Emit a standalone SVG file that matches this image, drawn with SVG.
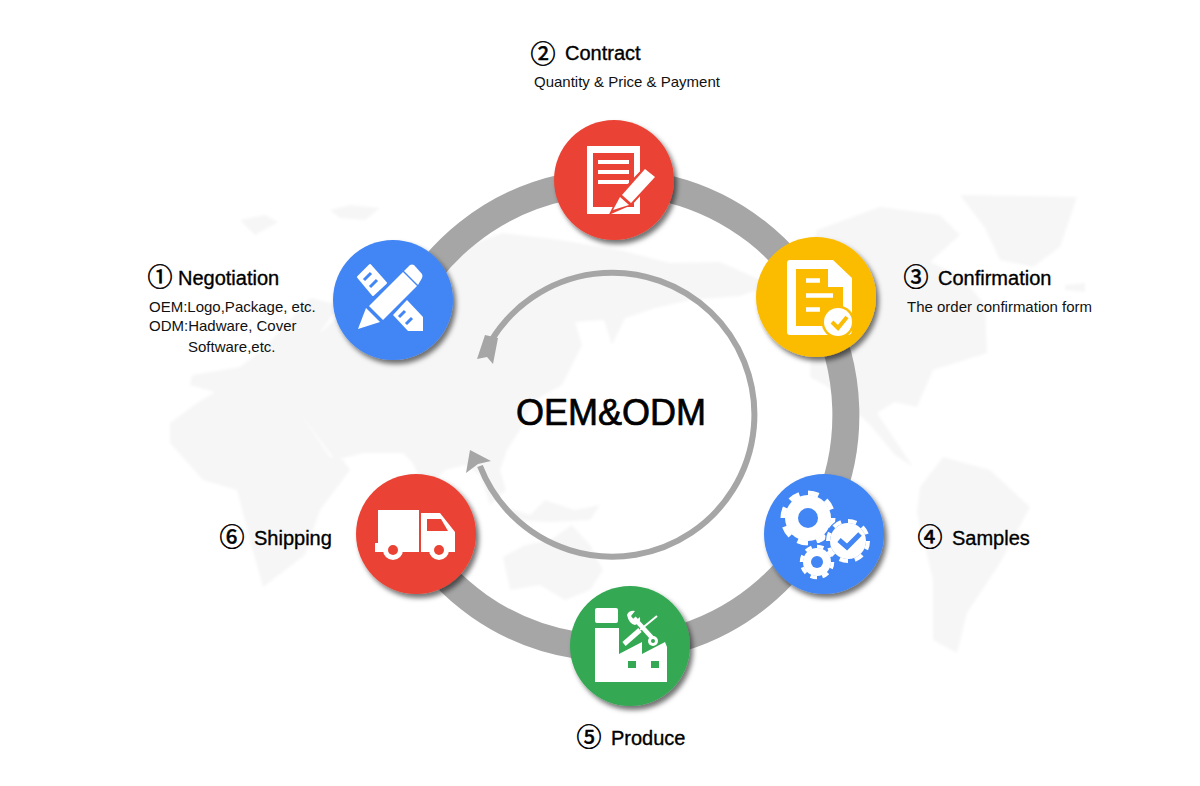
<svg xmlns="http://www.w3.org/2000/svg" width="1200" height="786" viewBox="0 0 1200 786">
<defs>
<filter id="sh" x="-20%" y="-20%" width="150%" height="150%"><feDropShadow dx="3" dy="4" stdDeviation="2.5" flood-color="#000" flood-opacity="0.55"/></filter>
<filter id="soft" x="-5%" y="-5%" width="110%" height="110%"><feGaussianBlur stdDeviation="1.4"/></filter>
</defs>
<style>
text{font-family:"Liberation Sans",Arial,sans-serif;fill:#000}
.h{font-size:20px;stroke:#000;stroke-width:.35}
.s{font-size:15px;fill:#111}
.n{font-family:"Noto Sans CJK SC","DejaVu Sans",sans-serif;font-size:25px;text-anchor:middle;stroke:#000;stroke-width:.6}
.w{fill:#fff}
.map{fill:#f6f6f6}
.ring{fill:none;stroke:#a6a6a6}
</style>
<rect width="1200" height="786" fill="#fff"/>
<g id="map" class="map" filter="url(#soft)">
<path d="M170 443L170 423L197 403L215 392L190 385L192 375L240 367L262 350L285 325L310 298L340 305L318 335L345 310L390 285L440 255L503 233L560 240L620 250L670 263L720 262L772 285L740 296L690 300L655 308L625 318L612 345L604 320L575 322L582 345L562 385L535 400L520 430L507 450L500 470L506 490L490 505L480 475L465 465L445 470L425 490L412 462L403 453L400 447L370 423L340 420L300 413L330 457L343 460L350 470L320 510L305 555L263 587L250 540L237 490L203 480Z"/>
<path d="M300 413L370 423L400 447L403 453L363 453L335 460Z"/>
<path d="M503 557L525 545L550 540L572 525L590 545L603 570L590 590L565 600L540 585L510 590Z"/>
<path d="M500 505L530 515L545 500L575 510L600 505L590 520L550 522L515 520Z"/>
<path d="M817 230L880 207L940 215L960 235L930 262L960 275L985 305L987 353L933 370L917 407L895 402L877 413L895 440L913 467L895 455L870 425L850 405L825 385L810 377L812 330L800 280Z"/>
<path d="M960 195L1077 197L1060 247L1033 267L1000 260L985 228Z"/>
<path d="M920 487L943 457L990 470L1030 507L1000 563L967 613L957 653L933 640L933 580L917 513Z"/>
<path d="M240 220L265 215L278 222L255 235ZM330 210L350 205L380 208L365 220L340 218ZM1065 285L1085 283L1085 292L1065 290Z"/>
</g>
<g id="connectors">
<path class="ring" stroke-width="27" d="M406.5 307A233 233 0 1 1 413.4 535.6"/>
<path class="ring" stroke-width="6" d="M491 341A142 142 0 1 1 480 466"/>
<polygon fill="#a6a6a6" points="485,335 498,338 493,364 487,357 477,359"/>
<polygon fill="#a6a6a6" points="470,450 491,461 478,464 466,473"/>
</g>
<g id="center"><text x="611" y="425" text-anchor="middle" font-size="36" stroke="#000" stroke-width=".7">OEM&amp;ODM</text></g>

<g id="node-negotiation">
<circle cx="393" cy="300" r="60" fill="#4285f4" filter="url(#sh)"/>
<g class="w">
<path d="M370 265L358 277L373 295L386 283Z" stroke="#fff" stroke-width="2" stroke-linejoin="round"/>
<path d="M407 300L393 315L408 331L423 331L423 317Z"/>
</g>
<path d="M364 280L371 273M370 287L377 280M399 317L405 311M406 324L412 318" fill="none" stroke="#4285f4" stroke-width="3"/>
<path d="M358 329L366 308L380 322Z" fill="#fff"/>
<path d="M369 306L403 272L417 286L383 320Z" fill="#fff" stroke="#4285f4" stroke-width="3" paint-order="stroke"/>
<path d="M404 271L410 265Q412 264 414 265L422 274Q423 276 422 278L418 285Z" fill="#fff"/>
</g>

<g id="node-contract">
<circle cx="614" cy="180" r="60" fill="#ea4335" filter="url(#sh)"/>
<path class="w" fill-rule="evenodd" d="M587 146H640V214H587ZM593 153V207H634V153Z"/>
<path d="M598 162H629M598 172H629M598 182H629" stroke="#fff" stroke-width="4"/>
<path d="M613 211L622 193L645 169L655 177L631 203Z" fill="#ea4335" stroke="#ea4335" stroke-width="4"/>
<path class="w" d="M613 210L620 197L629 205Z"/>
<path class="w" d="M622 195L645 169L655 177L631 203Z"/>
</g>

<g id="node-confirmation">
<circle cx="816" cy="297" r="60" fill="#fbbc05" filter="url(#sh)"/>
<path class="w" fill-rule="evenodd" d="M790 260H833L852 278V330Q852 335 848 335H790Q787 335 787 332V263Q787 260 790 260ZM796 269V326H843V287H828V269Z"/>
<path d="M806 280.5H820M806 295.5H833M806 309.5H820" stroke="#fff" stroke-width="4.5"/>
<circle cx="838" cy="322" r="16.5" fill="#fbbc05"/>
<circle cx="838" cy="322" r="14" fill="#fff"/>
<path d="M832 322L838 328L847 317" fill="none" stroke="#fbbc05" stroke-width="4"/>
</g>

<g id="node-samples">
<circle cx="824" cy="534" r="60" fill="#4285f4" filter="url(#sh)"/>
<g class="w">
<circle cx="808" cy="518" r="23"/>
<circle cx="808" cy="518" r="25" fill="none" stroke="#fff" stroke-width="5" pathLength="16" stroke-dasharray="1.1 .9"/>
</g>
<circle cx="808" cy="518" r="10" fill="#4285f4"/>
<circle cx="848" cy="541" r="23" fill="#4285f4"/>
<circle cx="817" cy="562" r="19" fill="#4285f4"/>
<g class="w">
<circle cx="848" cy="541" r="18"/>
<circle cx="848" cy="541" r="20" fill="none" stroke="#fff" stroke-width="4" pathLength="16" stroke-dasharray="1.1 .9"/>
<circle cx="817" cy="562" r="14"/>
<circle cx="817" cy="562" r="15.5" fill="none" stroke="#fff" stroke-width="3.5" pathLength="16" stroke-dasharray="1.1 .9"/>
</g>
<circle cx="817" cy="562" r="6" fill="#4285f4"/>
<path d="M839 540L847 547L860 534" fill="none" stroke="#4285f4" stroke-width="5"/>
</g>

<g id="node-produce">
<circle cx="630" cy="646" r="60" fill="#34a853" filter="url(#sh)"/>
<g class="w">
<rect x="595" y="608" width="23" height="15" rx="2"/>
<path d="M595 628H619V654L642 642V654L665 642L667 647V682H595Z"/>
</g>
<path d="M628 661h8v7h-8zM651 661h8v7h-8z" fill="#34a853"/>
<path d="M634 618L654 640" stroke="#fff" stroke-width="4.5"/>
<path d="M627 615Q629 610 635 611L631 616L635 621L640 617Q641 623 635 625Q629 624 627 615Z" class="w"/>
<circle cx="653" cy="641" r="5" fill="#fff"/>
<circle cx="653" cy="641" r="2" fill="#34a853"/>
<path d="M657 616L640 630" stroke="#fff" stroke-width="2"/>
<path d="M640 630L624 644" stroke="#34a853" stroke-width="8"/>
<path d="M640 630L624 644" stroke="#fff" stroke-width="5"/>
</g>

<g id="node-shipping">
<circle cx="416" cy="534" r="60" fill="#ea4335" filter="url(#sh)"/>
<g class="w">
<path d="M378 510H419V552H375V543H378Z"/>
<path d="M421 513H440L455 532V552H421Z"/>
</g>
<path d="M427 519H441L448 531H427Z" fill="#ea4335"/>
<circle cx="393" cy="550" r="10" fill="#fff"/><circle cx="393" cy="550" r="5" fill="#ea4335"/>
<circle cx="439" cy="550" r="10" fill="#fff"/><circle cx="439" cy="550" r="5" fill="#ea4335"/>
</g>

<g id="label-negotiation">
<text class="n" x="160" y="286">①</text><text class="h" x="178" y="285">Negotiation</text>
<text class="s" x="149" y="312">OEM:Logo,Package, etc.</text>
<text class="s" x="149" y="331">ODM:Hadware, Cover</text>
<text class="s" x="188" y="352">Software,etc.</text>
</g>
<g id="label-contract">
<text class="n" x="543" y="63">②</text><text class="h" x="565" y="60">Contract</text>
<text class="s" x="534" y="87">Quantity &amp; Price &amp; Payment</text>
</g>
<g id="label-confirmation">
<text class="n" x="916" y="286">③</text><text class="h" x="938" y="285">Confirmation</text>
<text class="s" x="907" y="312">The order confirmation form</text>
</g>
<g id="label-samples"><text class="n" x="930" y="546">④</text><text class="h" x="952" y="545">Samples</text></g>
<g id="label-produce"><text class="n" x="589" y="746">⑤</text><text class="h" x="611" y="745">Produce</text></g>
<g id="label-shipping"><text class="n" x="232" y="546">⑥</text><text class="h" x="254" y="545">Shipping</text></g>
</svg>
